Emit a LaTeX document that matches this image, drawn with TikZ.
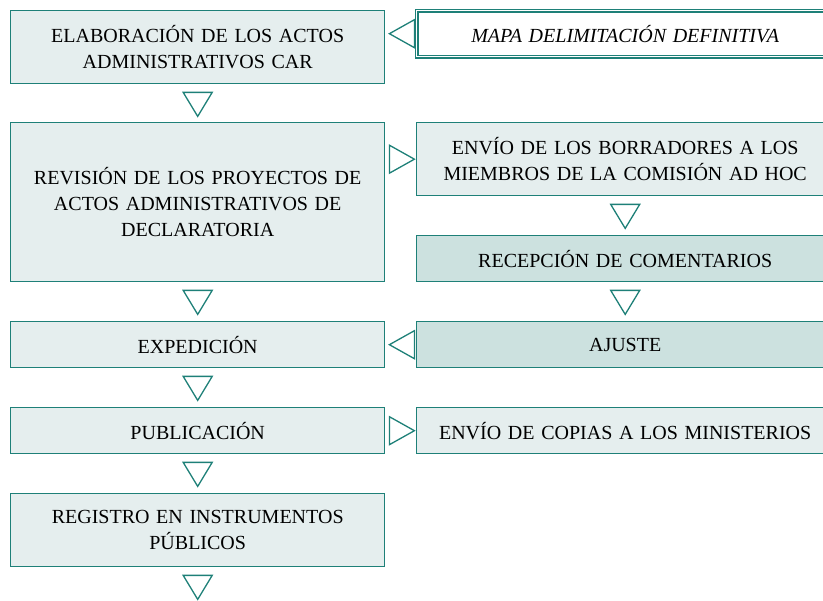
\documentclass[tikz,border=0pt]{standalone}
\usepackage{fontspec}
\setmainfont{Liberation Serif}
\usetikzlibrary{positioning,calc}

\definecolor{flowteal}{RGB}{30,128,120}
\definecolor{flowpale}{RGB}{229,238,238}
\definecolor{flowmid}{RGB}{204,225,223}

\tikzset{
  box/.style={draw=flowteal, line width=1.4pt, fill=flowpale, align=center,
    anchor=north west, inner sep=0pt, font=\fontsize{20}{26}\selectfont},
  leftbox/.style={box, minimum width=374, text width=366},
  rightbox/.style={box, minimum width=417, text width=410},
  tri/.style={draw=flowteal, line width=1.3pt, fill=white, line join=miter}
}

% down triangle under a node
\newcommand{\flowdown}[1]{%
  \draw[tri] ($(#1.south)+(-14.5,-8)$) -- ++(29,0) -- ++(-14.5,-24) -- cycle;}
% triangle pointing right, from #1 towards #2
\newcommand{\flowright}[2]{%
  \draw[tri] ($(#1.east |- #2.west)+(4,14)$) -- ++(0,-28) -- ++(25,14) -- cycle;}
% triangle pointing left, from #1 towards #2
\newcommand{\flowleft}[2]{%
  \draw[tri] ($(#2.east |- #1.west)+(29,14)$) -- ++(0,-28) -- ++(-25,14) -- cycle;}

\begin{document}
\begin{tikzpicture}[x=1pt,y=1pt]
    \clip (0,0) rectangle (823,-601);
    % left column
    \node[leftbox, minimum height=73] (elab) at (10,-10)
      {ELABORACIÓN DE LOS ACTOS\\ADMINISTRATIVOS CAR};
    \node[leftbox, minimum height=159] (revis) at (10,-122)
      {REVISIÓN DE LOS PROYECTOS DE\\ACTOS ADMINISTRATIVOS DE\\DECLARATORIA};
    \node[leftbox, minimum height=46] (exped) at (10,-321) {EXPEDICIÓN};
    \node[leftbox, minimum height=46] (publi) at (10,-407) {PUBLICACIÓN};
    \node[leftbox, minimum height=73] (regis) at (10,-493)
      {REGISTRO EN INSTRUMENTOS\\PÚBLICOS};
    % right column
    \node[rightbox, minimum height=46, fill=white, line width=1.4pt,
      double=white, double distance=1.5pt, font=\fontsize{20}{26}\selectfont\itshape]
      (mapa) at (416,-10) {MAPA DELIMITACIÓN DEFINITIVA};
    \node[rightbox, minimum height=73] (envio) at (416,-122)
      {ENVÍO DE LOS BORRADORES A LOS\\MIEMBROS DE LA COMISIÓN AD HOC};
    \node[rightbox, minimum height=46, fill=flowmid] (recep) at (416,-235)
      {RECEPCIÓN DE COMENTARIOS};
    \node[rightbox, minimum height=46, fill=flowmid] (ajuste) at (416,-321) {AJUSTE};
    \node[rightbox, minimum height=46] (copias) at (416,-407)
      {ENVÍO DE COPIAS A LOS MINISTERIOS};
    % connectors
    \flowdown{elab}
    \flowdown{revis}
    \flowdown{exped}
    \flowdown{publi}
    \flowdown{regis}
    \flowdown{envio}
    \flowdown{recep}
    \flowleft{mapa}{elab}
    \flowright{revis}{envio}
    \flowleft{ajuste}{exped}
    \flowright{publi}{copias}
\end{tikzpicture}
\end{document}
